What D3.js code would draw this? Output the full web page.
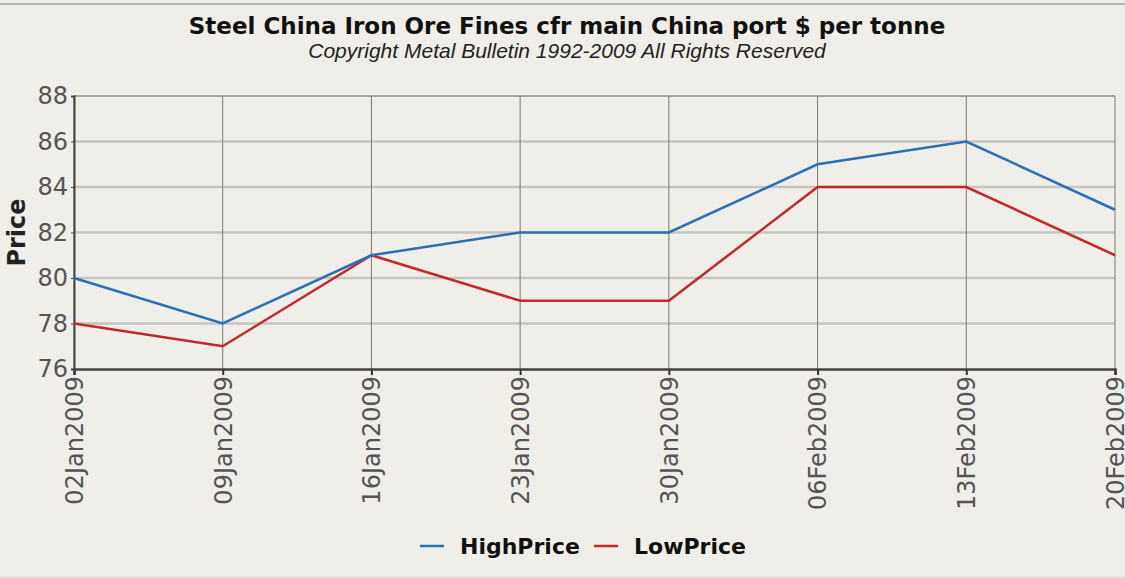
<!DOCTYPE html>
<html>
<head>
<meta charset="utf-8">
<script src="https://cdn.jsdelivr.net/npm/d3@7"></script>
<style>
  body { margin: 0; background: #efeee8; }
  svg { display: block; }
</style>
</head>
<body>
<div id="chart"></div>
<script>
// data
const dates = ["02Jan2009", "09Jan2009", "16Jan2009", "23Jan2009", "30Jan2009", "06Feb2009", "13Feb2009", "20Feb2009"];
const highPrice = [80, 78, 81, 82, 82, 85, 86, 83];
const lowPrice = [78, 77, 81, 79, 79, 84, 84, 81];
const yTicks = [76, 78, 80, 82, 84, 86, 88];

const W = 1125, H = 578;
const plotL = 74, plotR = 1115, plotT = 96, plotB = 369;

const svg = d3.select("#chart").append("svg")
    .attr("width", W)
    .attr("height", H);

svg.append("rect").attr("width", W).attr("height", H).attr("fill", "#efeee8");
// frame lines top / bottom
svg.append("line").attr("x1", 0).attr("x2", W).attr("y1", 4).attr("y2", 4)
    .attr("stroke", "#b8b8b2").attr("stroke-width", 2);
svg.append("line").attr("x1", 0).attr("x2", W).attr("y1", 577).attr("y2", 577)
    .attr("stroke", "#dcdcd6").attr("stroke-width", 1);

const x = d3.scalePoint().domain(dates).range([plotL, plotR]);
const y = d3.scaleLinear().domain([76, 88]).range([plotB, plotT]);

// horizontal grid
svg.append("g")
    .selectAll("line")
    .data(yTicks.filter(d => d > 76 && d < 88))
    .enter().append("line")
    .attr("x1", plotL).attr("x2", plotR)
    .attr("y1", d => y(d)).attr("y2", d => y(d))
    .attr("stroke", "#c6c6c0")
    .attr("stroke-width", 2.5);

// vertical grid
svg.append("g")
    .selectAll("line")
    .data(dates)
    .enter().append("line")
    .attr("x1", d => x(d)).attr("x2", d => x(d))
    .attr("y1", plotT).attr("y2", plotB)
    .attr("stroke", "#7a7a76")
    .attr("stroke-width", 1);

// top border
svg.append("line").attr("x1", plotL).attr("x2", plotR).attr("y1", plotT).attr("y2", plotT)
    .attr("stroke", "#8a8a86").attr("stroke-width", 1.5);

// x axis
const xAxis = svg.append("g")
    .attr("transform", `translate(0,${plotB})`)
    .call(d3.axisBottom(x).tickSize(6).tickPadding(6));
xAxis.select(".domain").attr("stroke", "#444").attr("stroke-width", 2.5);
xAxis.selectAll(".tick line").attr("stroke", "#333").attr("stroke-width", 2);
xAxis.selectAll("text")
    .attr("transform", "rotate(-90)")
    .attr("x", -7)
    .attr("y", 0)
    .attr("dy", "0.35em")
    .attr("text-anchor", "end")
    .attr("fill", "#555")
    .style("font-family", "DejaVu Sans")
    .style("font-size", "24px");

// y axis
const yAxis = svg.append("g")
    .attr("transform", `translate(${plotL},0)`)
    .call(d3.axisLeft(y).tickValues(yTicks).tickSize(3).tickPadding(3));
yAxis.select(".domain").attr("stroke", "#444").attr("stroke-width", 2);
yAxis.selectAll(".tick line").attr("stroke", "#444");
yAxis.selectAll("text")
    .attr("fill", "#555")
    .style("font-family", "DejaVu Sans")
    .style("font-size", "24px");

// lines
const line = d3.line()
    .x((d, i) => x(dates[i]))
    .y(d => y(d));

svg.append("path")
    .datum(lowPrice)
    .attr("fill", "none")
    .attr("stroke", "#c4262c")
    .attr("stroke-width", 2.5)
    .attr("d", line);

svg.append("path")
    .datum(highPrice)
    .attr("fill", "none")
    .attr("stroke", "#2d6fb5")
    .attr("stroke-width", 2.5)
    .attr("d", line);

// titles
svg.append("text")
    .attr("x", 567).attr("y", 34)
    .attr("text-anchor", "middle")
    .style("font-family", "DejaVu Sans")
    .style("font-weight", "bold")
    .style("font-size", "23px")
    .attr("fill", "#111")
    .text("Steel China Iron Ore Fines cfr main China port $ per tonne");

svg.append("text")
    .attr("x", 567).attr("y", 58)
    .attr("text-anchor", "middle")
    .style("font-family", "Liberation Sans")
    .style("font-style", "italic")
    .style("font-size", "21px")
    .attr("fill", "#222")
    .text("Copyright Metal Bulletin 1992-2009 All Rights Reserved");

svg.append("text")
    .attr("transform", `translate(25,${(plotT + plotB) / 2}) rotate(-90)`)
    .attr("text-anchor", "middle")
    .style("font-family", "DejaVu Sans")
    .style("font-weight", "bold")
    .style("font-size", "24px")
    .attr("fill", "#222")
    .text("Price");

// legend
const legend = [
    {name: "HighPrice", color: "#2d6fb5", x: 420},
    {name: "LowPrice", color: "#c4262c", x: 594}
];
const lg = svg.append("g").selectAll("g")
    .data(legend)
    .enter().append("g")
    .attr("transform", d => `translate(${d.x},546)`);
lg.append("line")
    .attr("x1", 0).attr("x2", 24)
    .attr("stroke", d => d.color)
    .attr("stroke-width", 2.5);
lg.append("text")
    .attr("x", 40).attr("dy", "0.35em")
    .style("font-family", "DejaVu Sans")
    .style("font-weight", "bold")
    .style("font-size", "22px")
    .attr("fill", "#111")
    .text(d => d.name);
</script>
</body>
</html>
